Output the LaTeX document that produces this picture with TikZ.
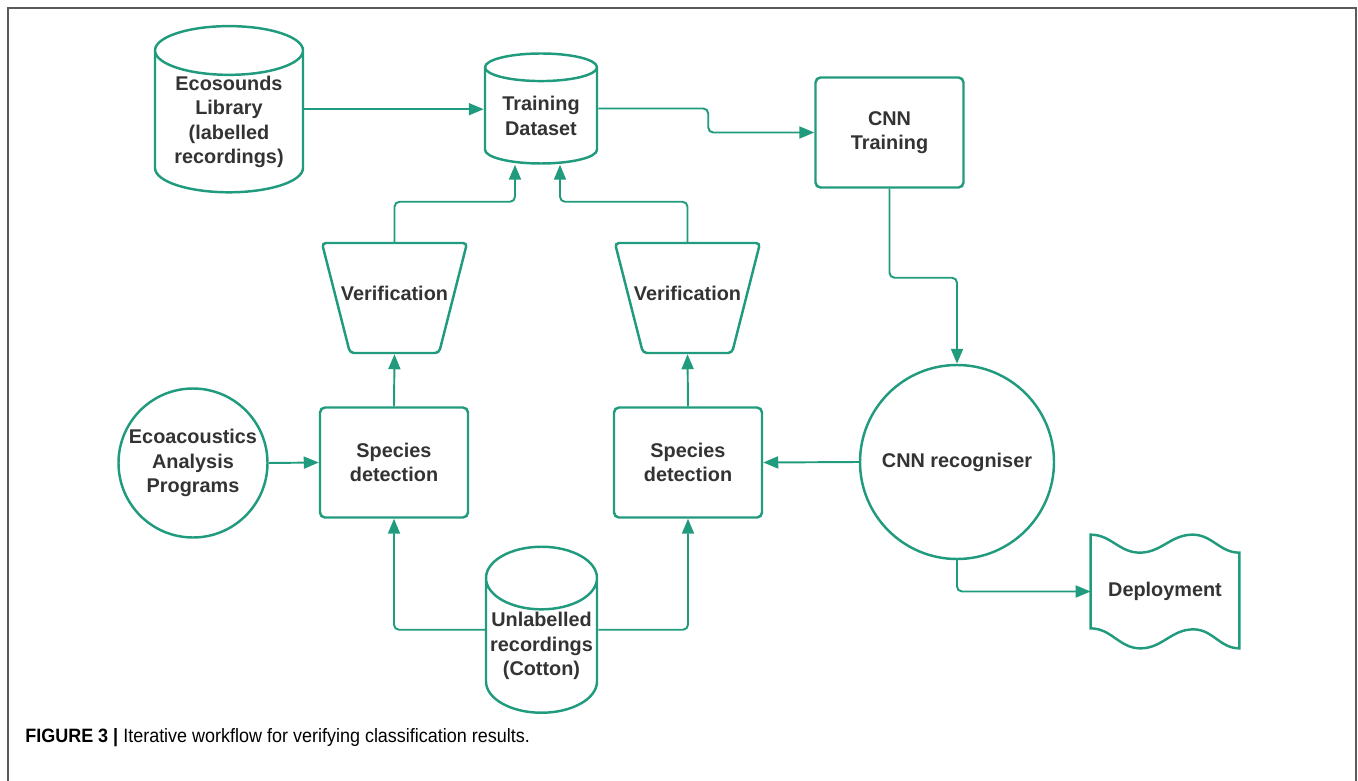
\documentclass[tikz,border=0pt]{standalone}
\usepackage{fontspec}
\setmainfont{Liberation Sans}
\usetikzlibrary{shapes.geometric,arrows.meta,positioning,calc}
\definecolor{ecoteal}{RGB}{32,155,125}
\definecolor{ink}{RGB}{51,51,51}
\definecolor{framegray}{RGB}{90,90,90}

\begin{document}
\begin{tikzpicture}[
  lbl/.style={text=ink, font=\bfseries\fontsize{11.3}{13.9}\selectfont, align=center, inner sep=0pt},
  box/.style={lbl, rectangle, draw=ecoteal, line width=1.4pt, rounded corners=0.1cm, fill=white, minimum width=2.96cm, minimum height=2.2cm},
  db/.style={lbl, cylinder, shape border rotate=90, draw=ecoteal, line width=1.4pt, fill=white},
  funnel/.style={lbl, trapezium, shape border rotate=180, trapezium angle=75.7, trapezium stretches body, draw=ecoteal, line width=1.4pt, rounded corners=0.08cm, fill=white, text height=0.3cm, text depth=0.19cm, inner ysep=0.855cm, inner xsep=-0.18cm},
  disc/.style={lbl, circle, draw=ecoteal, line width=1.4pt, fill=white},
  arrow/.style={-{Triangle[length=0.3cm, width=0.24cm]}, draw=ecoteal, line width=1.1pt, rounded corners=0.1cm}
]
  \useasboundingbox (0,0) rectangle (27.16,-15.62);
  \draw[framegray, line width=0.85pt] (0.16,-15.7) -- (0.16,-0.16) -- (27.12,-0.16) -- (27.12,-15.7);

  % data stores
  \node[db, aspect=0.446, minimum width=2.96cm, minimum height=3.1cm] (eco) at (4.58,-2.44) {Ecosounds\\Library\\(labelled\\recordings)};
  \node[db, aspect=0.357, minimum width=2.24cm, minimum height=2.2cm] (train) at (10.82,-2.32) {Training\\Dataset};
  \node[db, aspect=0.61, minimum width=2.22cm, minimum height=3.32cm] (unl) at (10.83,-12.92) {Unlabelled\\recordings\\(Cotton)};

  % processing steps
  \node[box] (cnnt) at (17.79,-2.65) {CNN\\Training};
  \node[funnel] (ver1) at (7.89,-5.96) {Verification};
  \node[funnel] (ver2) at (13.75,-5.96) {Verification};
  \node[box] (det1) at (7.88,-9.25) {Species\\detection};
  \node[box] (det2) at (13.76,-9.25) {Species\\detection};
  \node[disc, minimum size=2.98cm] (prog) at (3.86,-9.26) {Ecoacoustics\\Analysis\\Programs};
  \node[disc, minimum size=3.88cm] (rec) at (19.14,-9.24) {CNN recogniser};
  \node[lbl, minimum width=2.96cm, minimum height=2.26cm] (dep) at (23.3,-11.83) {Deployment};
  \draw[draw=ecoteal, line width=1.4pt]
    (dep.north west) to[out=0, in=180] ([xshift=0.98cm, yshift=-0.36cm]dep.north west)
    to[out=0, in=180] ([xshift=2.04cm]dep.north west)
    to[out=0, in=180] ([yshift=-0.36cm]dep.north east)
    -- (dep.south east)
    to[out=180, in=0] ([xshift=-0.92cm, yshift=0.38cm]dep.south east)
    to[out=180, in=0] ([xshift=-1.98cm]dep.south east)
    to[out=180, in=0] ([yshift=0.4cm]dep.south west) -- cycle;

  % connectors
  \draw[arrow] (eco.east |- eco.shape center) -- (train.west |- eco.shape center);
  \draw[arrow] (train.east |- train.shape center) -- ++(2.2,0) |- (cnnt.west);
  \draw[arrow] (cnnt.south) -- ++(0,-1.78) -| (rec.north);
  \draw[arrow] (rec.west) -- (det2.east);
  \draw[arrow] (rec.south) |- (dep.west);
  \draw[arrow] (prog.east) -- (det1.west);
  \draw[arrow] (det1.north) -- (ver1.south);
  \draw[arrow] (det2.north) -- (ver2.south);
  \draw[arrow] (ver1.north) -- ++(0,0.8) -| ([xshift=-0.52cm]train.south);
  \draw[arrow] (ver2.north) -- ++(0,0.8) -| ([xshift=0.38cm]train.south);
  \draw[arrow] (unl.west |- unl.shape center) -| (det1.south);
  \draw[arrow] (unl.east |- unl.shape center) -| (det2.south);

  \node[anchor=west, inner sep=0pt, font=\fontsize{11}{13}\selectfont] (caption) at (0.5,-14.76)
    {\scalebox{0.93}[1]{\textbf{FIGURE 3 |} Iterative workflow for verifying classification results.}};
\end{tikzpicture}
\end{document}
